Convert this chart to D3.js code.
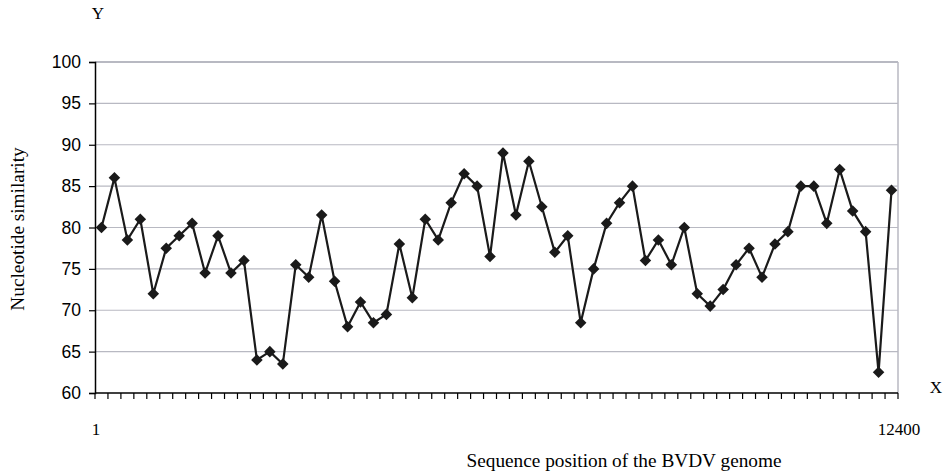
<!DOCTYPE html>
<html><head><meta charset="utf-8">
<script src="https://cdn.jsdelivr.net/npm/d3@7"></script>
<style>body{margin:0;background:#fff}svg{display:block}</style>
</head><body>
<svg id="c" width="945" height="472"></svg>
<script>
const similarity = [80,86,78.5,81,72,77.5,79,80.5,74.5,79,74.5,76,64,65,63.5,75.5,74,81.5,73.5,68,71,68.5,69.5,78,71.5,81,78.5,83,86.5,85,76.5,89,81.5,88,82.5,77,79,68.5,75,80.5,83,85,76,78.5,75.5,80,72,70.5,72.5,75.5,77.5,74,78,79.5,85,85,80.5,87,82,79.5,62.5,84.5];
const positions = similarity.map((d,i)=>i);
const yTicks = [60,65,70,75,80,85,90,95,100];
const xEndLabels = ["1","12400"];

const svg = d3.select("#c");
const L=95, R=898, T=62, B=393;
const x = d3.scaleBand().domain(positions).range([L,R]);
const y = d3.scaleLinear().domain([60,100]).range([B,T]);

// grid
svg.append("g").selectAll("line").data(yTicks.filter(t=>t>60)).join("line")
  .attr("x1",L).attr("x2",R).attr("y1",d=>y(d)).attr("y2",d=>y(d))
  .attr("stroke","#b8b9c2").attr("stroke-width",d=>d===100?2:1.2);
// right border
svg.append("line").attr("x1",R).attr("x2",R).attr("y1",T).attr("y2",B).attr("stroke","#b8b9c2").attr("stroke-width",1.5);

// y axis
const ya = svg.append("g").attr("transform",`translate(${L},0)`)
  .call(d3.axisLeft(y).tickValues(yTicks).tickSize(6).tickPadding(8));
ya.select(".domain").attr("stroke","#000").attr("stroke-width",1.5);
ya.selectAll(".tick line").attr("stroke","#000").attr("stroke-width",1.2);
ya.selectAll("text").attr("font-family","Liberation Sans, Arial, sans-serif").attr("font-size",17.5).attr("fill","#000");

// x axis with ticks at band boundaries
const bounds = positions.map(p=>x(p)).concat([R]);
const xa = svg.append("g");
xa.append("line").attr("x1",L).attr("x2",R).attr("y1",B).attr("y2",B).attr("stroke","#000").attr("stroke-width",1.5);
xa.selectAll("line.t").data(bounds).join("line").attr("class","t")
  .attr("x1",d=>d).attr("x2",d=>d).attr("y1",B).attr("y2",B+6).attr("stroke","#000").attr("stroke-width",1.2);

// line
const cx = d=>x(d)+x.bandwidth()/2;
svg.append("path").datum(positions)
  .attr("d",d3.line().x(cx).y(i=>y(similarity[i])))
  .attr("fill","none").attr("stroke","#1a1a1a").attr("stroke-width",2.2);
svg.append("g").selectAll("path").data(positions).join("path")
  .attr("d",d3.symbol(d3.symbolDiamond2,85))
  .attr("transform",i=>`translate(${cx(i)},${y(similarity[i])})`)
  .attr("fill","#1a1a1a");

const serif="Liberation Serif, Times New Roman, serif";
svg.append("text").attr("x",96).attr("y",435).attr("text-anchor","middle").attr("font-family",serif).attr("font-size",17).text(xEndLabels[0]);
svg.append("text").attr("x",899).attr("y",435).attr("text-anchor","middle").attr("font-family",serif).attr("font-size",17).text(xEndLabels[1]);
svg.append("text").attr("x",624).attr("y",467).attr("text-anchor","middle").attr("font-family",serif).attr("font-size",19.3).text("Sequence position of the BVDV genome");
svg.append("text").attr("transform","translate(24,229) rotate(-90)").attr("text-anchor","middle").attr("font-family",serif).attr("font-size",19.3).text("Nucleotide similarity");
svg.append("text").attr("x",98).attr("y",19).attr("text-anchor","middle").attr("font-family",serif).attr("font-size",17).text("Y");
svg.append("text").attr("x",936).attr("y",393).attr("text-anchor","middle").attr("font-family",serif).attr("font-size",17).text("X");
</script>
</body></html>
